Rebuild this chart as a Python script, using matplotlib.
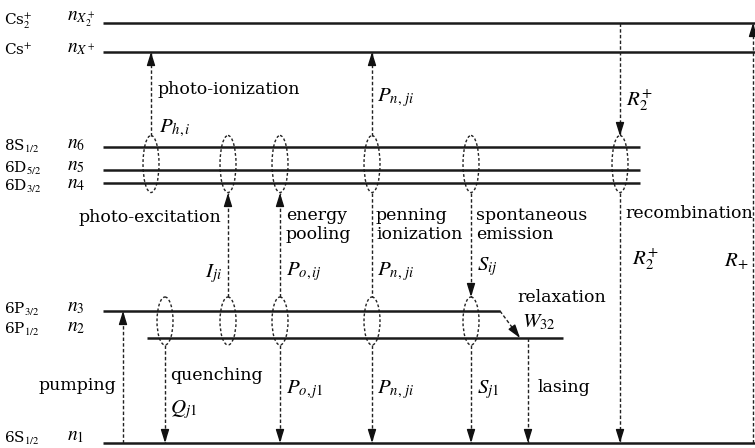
import matplotlib
matplotlib.use("Agg")
import matplotlib.pyplot as plt
from matplotlib.patches import Ellipse

plt.rcParams['font.family'] = ['DejaVu Serif']
plt.rcParams['mathtext.fontset'] = 'stix'

# energy levels: (state label, population label, y, x start, x end)
level_states = [r'Cs$_2^{+}$', r'Cs$^{+}$', r'8S$_{1/2}$', r'6D$_{5/2}$', r'6D$_{3/2}$',
                r'6P$_{3/2}$', r'6P$_{1/2}$', r'6S$_{1/2}$']
level_pops = [r'$n_{X_2^+}$', r'$n_{X^+}$', r'$n_6$', r'$n_5$', r'$n_4$', r'$n_3$', r'$n_2$', r'$n_1$']
level_y = [23, 52, 147, 170, 183, 311, 338, 443]
level_text_y = [21, 50, 146, 168, 186, 309, 329, 438]
level_x0 = [103, 103, 103, 103, 103, 103, 147, 103]
level_x1 = [755, 755, 640, 640, 640, 500, 563, 755]

# ellipses grouping level bundles
upper_ell_x = [151, 228, 280, 372, 471, 620]
lower_ell_x = [165, 228, 280, 372, 471]
upper_ell = (164, 57)   # center y, height
lower_ell = (321, 48)

# dashed transitions: x, y start, y end, arrow head at end?
trans_x = [123, 165, 228, 280, 280, 151, 372, 372, 372, 471, 471, 528, 620, 620, 753]
trans_y0 = [443, 345, 297, 297, 345, 136, 136, 193, 345, 193, 345, 338, 23, 193, 443]
trans_y1 = [311, 443, 193, 193, 443, 52, 52, 297, 443, 297, 443, 443, 136, 443, 23]
trans_head = [True, True, True, True, True, True, True, False, True, True, True, True, True, True, True]

# process labels: text, x, y, horizontal alignment
labels = ['photo-ionization', 'photo-excitation', 'energy\npooling', 'penning\nionization',
          'spontaneous\nemission', 'recombination', 'relaxation', 'pumping', 'quenching', 'lasing']
label_x = [157, 221, 286, 376, 476, 625, 517, 116, 170, 537]
label_y = [90, 218, 225, 225, 225, 214, 298, 386, 376, 387]
label_ha = ['left', 'right', 'left', 'left', 'left', 'left', 'left', 'right', 'left', 'left']

rates = [r'$P_{h,i}$', r'$P_{n,\,ji}$', r'$R_2^{+}$', r'$I_{ji}$', r'$P_{o,ij}$', r'$P_{n,\,ji}$',
         r'$S_{ij}$', r'$R_2^{+}$', r'$R_{+}$', r'$W_{32}$', r'$Q_{j1}$', r'$P_{o,j1}$',
         r'$P_{n,\,ji}$', r'$S_{j1}$']
rate_x = [159, 377, 626, 222, 286, 377, 477, 632, 724, 522, 170, 286, 377, 477]
rate_y = [128, 98, 100, 274, 272, 272, 267, 259, 262, 322, 410, 390, 390, 390]
rate_ha = ['left', 'left', 'left', 'right', 'left', 'left', 'left', 'left', 'left', 'left',
           'left', 'left', 'left', 'left']

DASH = (0, (2.5, 1.6))


def dashed_arrow(ax, x0, y0, x1, y1, head=True):
    ax.plot([x0, x1], [y0, y1], color='#222222', lw=1.0, ls=DASH, solid_capstyle='butt')
    if head:
        dx, dy = x1 - x0, y1 - y0
        length = (dx ** 2 + dy ** 2) ** 0.5
        sx, sy = x1 - dx / length * 12, y1 - dy / length * 12
        ax.annotate('', xy=(x1, y1), xytext=(sx, sy),
                    arrowprops=dict(arrowstyle='-|>,head_length=0.8,head_width=0.25',
                                    color='#111111', lw=1.0, shrinkA=0, shrinkB=0))


fig = plt.figure(figsize=(7.55, 4.48), dpi=100)
ax = fig.add_axes([0, 0, 1, 1])
ax.set_xlim(0, 755)
ax.set_ylim(448, 0)
ax.axis('off')

for state, pop, y, ty, x0, x1 in zip(level_states, level_pops, level_y, level_text_y,
                                      level_x0, level_x1):
    ax.plot([x0, x1], [y, y], color='#1a1a1a', lw=1.8, solid_capstyle='butt')
    ax.text(4, ty, state, fontsize=11, ha='left', va='center')
    ax.text(67, ty - 2, pop, fontsize=14, ha='left', va='center')

for x in upper_ell_x:
    ax.add_patch(Ellipse((x, upper_ell[0]), 16, upper_ell[1], fill=False,
                         ec='#222222', lw=1.0, ls=(0, (2, 1.6))))
for x in lower_ell_x:
    ax.add_patch(Ellipse((x, lower_ell[0]), 16, lower_ell[1], fill=False,
                         ec='#222222', lw=1.0, ls=(0, (2, 1.6))))

for x, y0, y1, h in zip(trans_x, trans_y0, trans_y1, trans_head):
    dashed_arrow(ax, x, y0, x, y1, h)

# relaxation 6P3/2 -> 6P1/2
dashed_arrow(ax, level_x1[5], level_y[5], 520, level_y[6])

for t, x, y, ha in zip(labels, label_x, label_y, label_ha):
    ax.text(x, y, t, fontsize=12.5, ha=ha, va='center', linespacing=1.2)

for t, x, y, ha in zip(rates, rate_x, rate_y, rate_ha):
    ax.text(x, y, t, fontsize=15, ha=ha, va='center')

fig.savefig('out.png', dpi=100)
